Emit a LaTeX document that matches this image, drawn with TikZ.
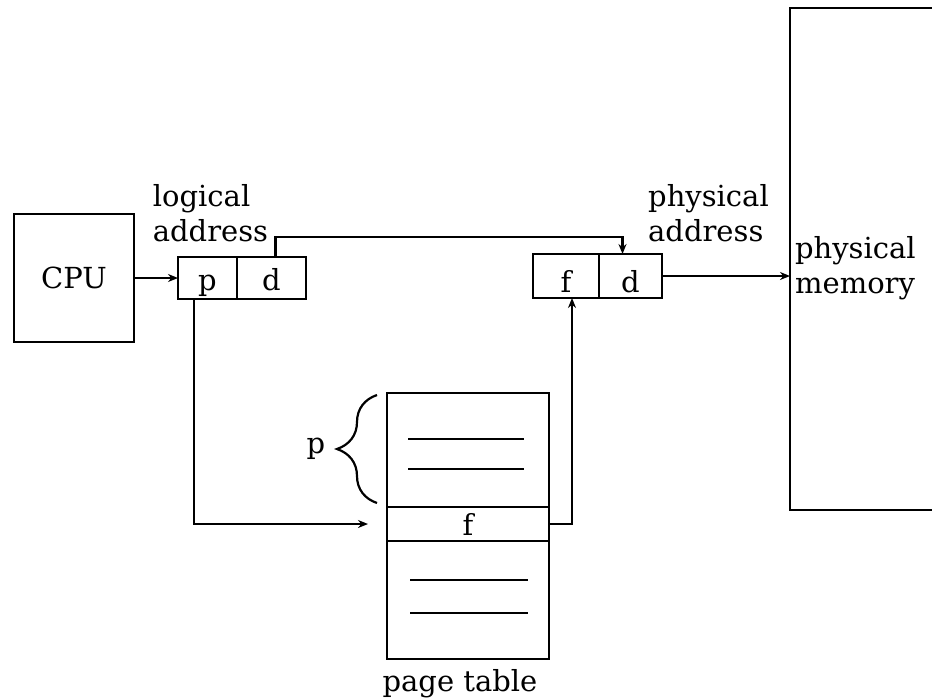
\documentclass[tikz,border=0pt]{standalone}
\usepackage{fontspec}
\setmainfont{DejaVu Serif}
\usetikzlibrary{positioning,calc,arrows.meta,decorations.pathreplacing}
\begin{document}
\begin{tikzpicture}[x=0.5pt,y=-0.5pt,line width=1.1pt,
    font=\fontsize{14.5}{17.5}\selectfont,
    box/.style={draw,inner sep=0pt,outer sep=0pt},
    cell/.style={box,minimum height=21pt,text height=15pt,text depth=3pt},
    lbl/.style={align=left,inner sep=0pt},
    arr/.style={-{Stealth[length=5pt,width=4pt]}}]
  \useasboundingbox (0,0) rectangle (932,697);

  \node[box,minimum width=60pt,minimum height=64pt] (cpu) at (74,278) {CPU};

  \node[cell,minimum width=29.5pt] (lp) at (207.5,278) {p};
  \node[cell,minimum width=34.5pt,right=0pt of lp] (ld) {d};
  \node[lbl,anchor=south] (lgl) at ([xshift=1.5pt,yshift=7pt]lp.north) {logical\\address};

  \node[cell,minimum width=33pt,minimum height=22pt,text height=19pt] (phf) at (566,276) {f};
  \node[cell,minimum width=31.5pt,minimum height=22pt,text height=19pt,right=0pt of phf] (phd) {d};
  \node[lbl,anchor=south] (phl) at ([xshift=39pt,yshift=5.5pt]phd.north) {physical\\address};

  \node[box,minimum width=105pt,minimum height=251pt] (mem) at (895,259) {};
  \node[lbl,anchor=west] (meml) at ([xshift=2pt,yshift=-4.5pt]mem.west) {physical\\memory};

  \node[box,minimum width=81pt,minimum height=57pt] (tbltop) at (468,450) {};
  \node[box,minimum width=81pt,minimum height=17pt,text height=11pt,text depth=0pt,below=0pt of tbltop] (tblf) {f};
  \node[box,minimum width=81pt,minimum height=59pt,below=0pt of tblf] (tblbot) {};
  \node[lbl,anchor=north] (tbll) at ([xshift=-4pt,yshift=-4.5pt]tblbot.south) {page table};

  \foreach \dy in {-11,19}
    \draw ($(tbltop.center)+(-60,\dy)$) -- ++(116,0);
  \foreach \dy in {-20,13}
    \draw ($(tblbot.center)+(-58,\dy)$) -- ++(118,0);

  \draw[decorate,decoration={brace,amplitude=20pt}]
    ([xshift=-5pt,yshift=2pt]tbltop.south west) -- ([xshift=-5pt,yshift=-1pt]tbltop.north west)
    node[midway,left=22pt] (bp) {p};

  \draw[arr] (cpu) -- (lp);
  \draw[arr,shorten >=9.5pt] ([xshift=-6.75pt]lp.south) |- (tblf.west);
  \draw[arr] (tblf.east) -| ([xshift=3pt]phf.south);
  \draw[arr] ([xshift=2pt]ld.north) -- ++(0,-20) -| ([xshift=-4pt]phd.north);
  \draw[arr] (phd.east) -- (phd.east -| mem.west);
\end{tikzpicture}
\end{document}
